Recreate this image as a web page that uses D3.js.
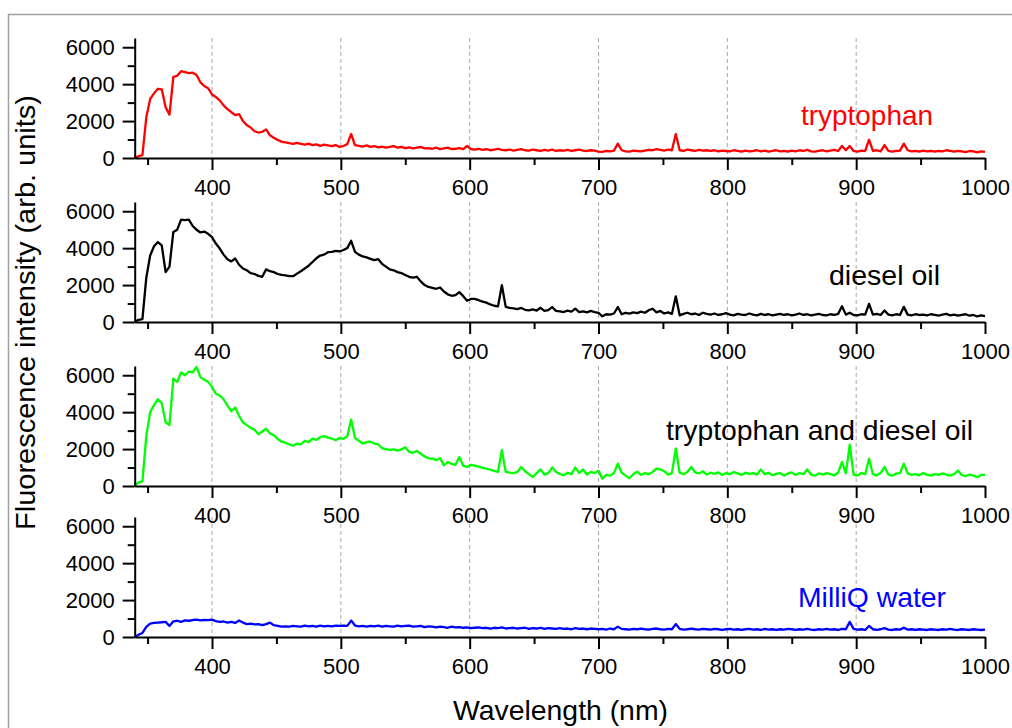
<!DOCTYPE html>
<html>
<head>
<meta charset="utf-8">
<script src="https://cdn.jsdelivr.net/npm/d3@7"></script>
<style>
    body { margin: 0; background: #fff; }
    svg { display: block; font-family: "Liberation Sans", Arial, sans-serif; }
</style>
</head>
<body>
<svg id="chart" width="1012" height="728"></svg>
<script>
// ── Data ─────────────────────────────────────────────
// spectra sampled every 3 nm from 340 to 1000 nm, one row = 30 nm
const wlStart = 340, wlStep = 3, wlEnd = 1000;
const wavelength = d3.range(wlStart, wlEnd + 1, wlStep);

const tryptophan = [
    0, 100, 150, 2200, 3200, 3500, 3750, 3720, 2750, 2350,          // 340
    4400, 4450, 4700, 4650, 4600, 4620, 4500, 4100, 3900, 3780,     // 370
    3440, 3300, 3120, 2850, 2650, 2480, 2320, 2380, 2000, 1780,     // 400
    1650, 1450, 1380, 1420, 1550, 1230, 1100, 980, 880, 850,        // 430
    800, 760, 820, 760, 720, 780, 700, 740, 660, 720,               // 460
    680, 640, 700, 600, 650, 750, 1300, 700, 660, 620,              // 490
    680, 600, 640, 580, 620, 560, 600, 640, 560, 600,               // 520
    540, 580, 520, 560, 600, 520, 540, 500, 560, 480,               // 550
    520, 560, 480, 500, 540, 480, 650, 480, 460, 500,               // 580
    440, 480, 420, 460, 500, 440, 420, 460, 400, 440,               // 610
    480, 420, 400, 460, 420, 380, 440, 400, 460, 380,               // 640
    420, 400, 440, 380, 420, 460, 400, 380, 420, 400,               // 670
    350, 330, 380, 360, 400, 780, 420, 360, 340, 400,               // 700
    380, 360, 400, 440, 420, 480, 440, 400, 460, 420,               // 730
    1300, 420, 380, 460, 420, 380, 440, 400, 420, 380,              // 760
    420, 360, 400, 380, 360, 420, 380, 340, 400, 360,               // 790
    380, 420, 360, 400, 340, 380, 420, 360, 380, 340,               // 820
    400, 360, 420, 380, 440, 360, 340, 380, 420, 360,               // 850
    400, 440, 380, 650, 420, 650, 380, 340, 400, 380,               // 880
    990, 380, 420, 360, 700, 380, 340, 380, 400, 780,               // 910
    420, 360, 380, 340, 400, 360, 380, 340, 380, 360,               // 940
    420, 380, 340, 380, 360, 320, 380, 360, 300, 360,               // 970
    330                                                             // 1000
];

const dieselOil = [
    0, 120, 150, 2400, 3600, 4100, 4330, 4150, 2700, 3000,          // 340
    4880, 5000, 5550, 5520, 5550, 5200, 5000, 4850, 4900, 4780,     // 370
    4600, 4250, 3980, 3650, 3400, 3280, 3440, 3100, 2900, 2800,     // 400
    2650, 2600, 2500, 2450, 2850, 2750, 2700, 2600, 2550, 2520,     // 430
    2480, 2480, 2620, 2750, 2900, 3050, 3250, 3450, 3600, 3650,     // 460
    3780, 3800, 3850, 3820, 3900, 4000, 4400, 3800, 3650, 3550,     // 490
    3500, 3420, 3350, 3400, 3150, 3000, 2850, 2800, 2700, 2650,     // 520
    2550, 2450, 2400, 2450, 2200, 2000, 1900, 1850, 1800, 1870,     // 550
    1650, 1500, 1420, 1450, 1620, 1400, 1150, 1250, 1250, 1180,     // 580
    1100, 1050, 950, 880, 850, 1990, 820, 760, 740, 700,            // 610
    760, 660, 630, 680, 620, 770, 600, 640, 810, 600,               // 640
    580, 540, 620, 560, 720, 540, 580, 520, 600, 540,               // 670
    500, 310, 420, 400, 460, 810, 420, 500, 450, 520,               // 700
    480, 560, 500, 640, 720, 520, 600, 460, 520, 440,               // 730
    1390, 360, 440, 500, 420, 460, 380, 500, 440, 400,              // 760
    460, 380, 420, 480, 400, 360, 440, 400, 380, 460,               // 790
    400, 360, 440, 380, 420, 360, 400, 440, 380, 420,               // 820
    360, 400, 460, 380, 420, 360, 400, 440, 380, 360,               // 850
    420, 380, 440, 850, 400, 500, 380, 360, 420, 400,               // 880
    980, 400, 440, 380, 620, 400, 360, 420, 380, 820,               // 910
    400, 360, 420, 380, 400, 360, 420, 380, 340, 400,               // 940
    440, 360, 400, 340, 380, 420, 340, 380, 300, 360,               // 970
    320                                                             // 1000
];

const tryptophanDiesel = [
    0, 200, 250, 2700, 4000, 4380, 4700, 4480, 3450, 3300,          // 340
    5820, 5640, 6150, 6000, 6200, 6150, 6450, 5900, 5750, 5640,     // 370
    5370, 5000, 4900, 4700, 4350, 4050, 4250, 3800, 3450, 3300,     // 400
    3150, 3050, 2800, 2950, 3100, 2850, 2750, 2550, 2400, 2350,     // 430
    2250, 2180, 2300, 2250, 2450, 2380, 2570, 2500, 2650, 2700,     // 460
    2620, 2570, 2480, 2600, 2550, 2700, 3600, 2600, 2450, 2300,     // 490
    2380, 2400, 2300, 2250, 2050, 2000, 1950, 1980, 1920, 1980,     // 520
    2100, 1850, 1800, 1900, 1750, 1600, 1500, 1480, 1400, 1500,     // 550
    1120, 1300, 1200, 1150, 1570, 1100, 1030, 1150, 1100, 1050,     // 580
    980, 940, 880, 820, 760, 1940, 760, 720, 700, 760,              // 610
    1030, 800, 640, 490, 700, 900, 620, 700, 1000, 760,             // 640
    650, 580, 720, 640, 1000, 700, 900, 620, 760, 700,              // 670
    820, 400, 600, 560, 700, 1210, 720, 560, 420, 640,              // 700
    780, 600, 700, 640, 760, 940, 900, 800, 620, 700,               // 730
    2030, 720, 640, 760, 1030, 740, 680, 800, 620, 720,             // 760
    660, 740, 600, 700, 640, 760, 680, 600, 720, 660,               // 790
    700, 620, 900, 640, 720, 580, 660, 700, 560, 680,               // 820
    740, 600, 700, 640, 900, 620, 560, 680, 620, 700,               // 850
    640, 580, 720, 1300, 680, 2240, 620, 560, 700, 640,             // 880
    1480, 640, 580, 700, 1030, 620, 560, 680, 700, 1210,            // 910
    680, 600, 640, 580, 700, 620, 560, 640, 600, 680,               // 940
    620, 560, 640, 840, 600, 540, 620, 560, 480, 600,               // 970
    600                                                             // 1000
];

const milliQWater = [
    0, 120, 220, 550, 720, 760, 780, 800, 820, 600,                 // 340
    850, 880, 820, 900, 880, 920, 940, 900, 920, 910,               // 370
    940, 860, 820, 840, 780, 820, 760, 890, 780, 700,               // 400
    720, 680, 700, 640, 700, 780, 640, 600, 560, 580,               // 430
    560, 600, 580, 560, 620, 580, 600, 560, 620, 580,               // 460
    600, 580, 620, 600, 620, 600, 890, 620, 580, 600,               // 490
    560, 600, 580, 620, 560, 600, 580, 560, 620, 580,               // 520
    600, 620, 560, 580, 600, 540, 580, 560, 520, 560,               // 550
    540, 500, 560, 520, 540, 500, 520, 480, 500, 520,               // 580
    480, 500, 460, 500, 480, 520, 460, 480, 500, 460,               // 610
    480, 500, 440, 480, 460, 500, 440, 480, 460, 440,               // 640
    480, 440, 460, 420, 480, 440, 460, 420, 460, 440,               // 670
    420, 440, 400, 460, 420, 560, 440, 420, 400, 440,               // 700
    420, 460, 420, 400, 440, 460, 420, 400, 440, 420,               // 730
    700, 440, 400, 420, 460, 420, 400, 440, 420, 400,               // 760
    440, 420, 380, 420, 440, 400, 420, 380, 420, 440,               // 790
    400, 420, 380, 440, 400, 420, 380, 420, 400, 440,               // 820
    420, 380, 420, 400, 440, 400, 380, 420, 400, 440,               // 850
    400, 420, 380, 440, 420, 820, 440, 400, 420, 380,               // 880
    600, 420, 380, 420, 480, 400, 380, 420, 400, 500,               // 910
    400, 420, 380, 420, 400, 380, 420, 400, 380, 420,               // 940
    400, 440, 400, 380, 420, 400, 380, 420, 400, 380,               // 970
    400                                                             // 1000
];

const seriesValues = [tryptophan, dieselOil, tryptophanDiesel, milliQWater];
const seriesLabels = ['tryptophan', 'diesel oil', 'tryptophan and diesel oil', 'MilliQ water'];
const seriesColors = ['#ff0000', '#000000', '#00ff00', '#0000ff'];
const labelColors = ['#ff0000', '#000000', '#000000', '#0000ff'];

const xMajorTicks = [400, 500, 600, 700, 800, 900, 1000];
const xMinorTicks = [350, 450, 550, 650, 750, 850, 950];
const gridLines = [400, 500, 600, 700, 800, 900];
const yMajorTicks = [0, 2000, 4000, 6000];
const yMinorTicks = [1000, 3000, 5000];

// ── Layout ───────────────────────────────────────────
const panelBottoms = [158, 322, 486, 637];
const panelHeight = 120;
// label position (left x, baseline y, text width)
const labelPos = [[801, 125, 132], [829, 285, 111], [666, 440, 307], [798, 607, 148]];

const svg = d3.select('#chart');
svg.append('rect').attr('width', 1012).attr('height', 728).attr('fill', '#fff');

// outer frame (only left and top edges fall inside the picture)
svg.append('path')
    .attr('d', 'M8.5,728 V14.5 H1012')
    .attr('fill', 'none')
    .attr('stroke', '#a0a0a0')
    .attr('stroke-width', 1.5);

const x = d3.scaleLinear().domain([340, 1000]).range([134.7, 985]);

seriesValues.forEach((values, i) => {
    const bottom = panelBottoms[i];
    const y = d3.scaleLinear().domain([0, 6500]).range([bottom, bottom - panelHeight]);
    const g = svg.append('g');

    // dashed vertical grid
    g.append('g')
        .selectAll('line')
        .data(gridLines)
        .enter()
        .append('line')
        .attr('x1', d => x(d)).attr('x2', d => x(d))
        .attr('y1', y(6500)).attr('y2', y(0))
        .attr('stroke', '#a8a8a8')
        .attr('stroke-width', 1)
        .attr('stroke-dasharray', '4,3');

    // spectrum
    const line = d3.line()
        .x((d, k) => x(wavelength[k]))
        .y(d => y(d));
    g.append('path')
        .datum(values)
        .attr('d', line)
        .attr('fill', 'none')
        .attr('stroke', seriesColors[i])
        .attr('stroke-width', 2.3)
        .attr('stroke-linejoin', 'round');

    // minor ticks
    g.append('g')
        .attr('transform', `translate(0,${bottom})`)
        .call(d3.axisBottom(x).tickValues(xMinorTicks).tickSize(7).tickSizeOuter(0).tickFormat(''))
        .call(a => a.select('.domain').remove());
    g.append('g')
        .attr('transform', `translate(${x(340)},0)`)
        .call(d3.axisLeft(y).tickValues(yMinorTicks).tickSize(7).tickSizeOuter(0).tickFormat(''))
        .call(a => a.select('.domain').remove());

    // major axes
    const xAxis = g.append('g')
        .attr('transform', `translate(0,${bottom})`)
        .call(d3.axisBottom(x).tickValues(xMajorTicks).tickSize(12).tickPadding(9)
            .tickSizeOuter(0).tickFormat(d3.format('d')));
    const yAxis = g.append('g')
        .attr('transform', `translate(${x(340)},0)`)
        .call(d3.axisLeft(y).tickValues(yMajorTicks).tickSize(12).tickPadding(8)
            .tickSizeOuter(0).tickFormat(d3.format('d')));

    g.selectAll('.tick line, .domain')
        .attr('stroke', '#000')
        .attr('stroke-width', 2);
    [xAxis, yAxis].forEach(a => a.selectAll('text')
        .attr('font-family', '"Liberation Sans", Arial, sans-serif')
        .attr('font-size', 22)
        .attr('fill', '#000'));

    // series label
    const [lx, ly, lw] = labelPos[i];
    svg.append('text')
        .attr('x', lx).attr('y', ly)
        .attr('font-size', 28)
        .attr('fill', labelColors[i])
        .attr('textLength', lw)
        .attr('lengthAdjust', 'spacingAndGlyphs')
        .text(seriesLabels[i]);
});

// axis titles
svg.append('text')
    .attr('x', 560.5).attr('y', 720)
    .attr('text-anchor', 'middle')
    .attr('font-size', 28)
    .attr('textLength', 215)
    .attr('lengthAdjust', 'spacingAndGlyphs')
    .text('Wavelength (nm)');

svg.append('text')
    .attr('transform', 'translate(35,312.5) rotate(-90)')
    .attr('text-anchor', 'middle')
    .attr('font-size', 28)
    .attr('textLength', 435)
    .attr('lengthAdjust', 'spacingAndGlyphs')
    .text('Fluorescence intensity (arb. units)');
</script>
</body>
</html>
